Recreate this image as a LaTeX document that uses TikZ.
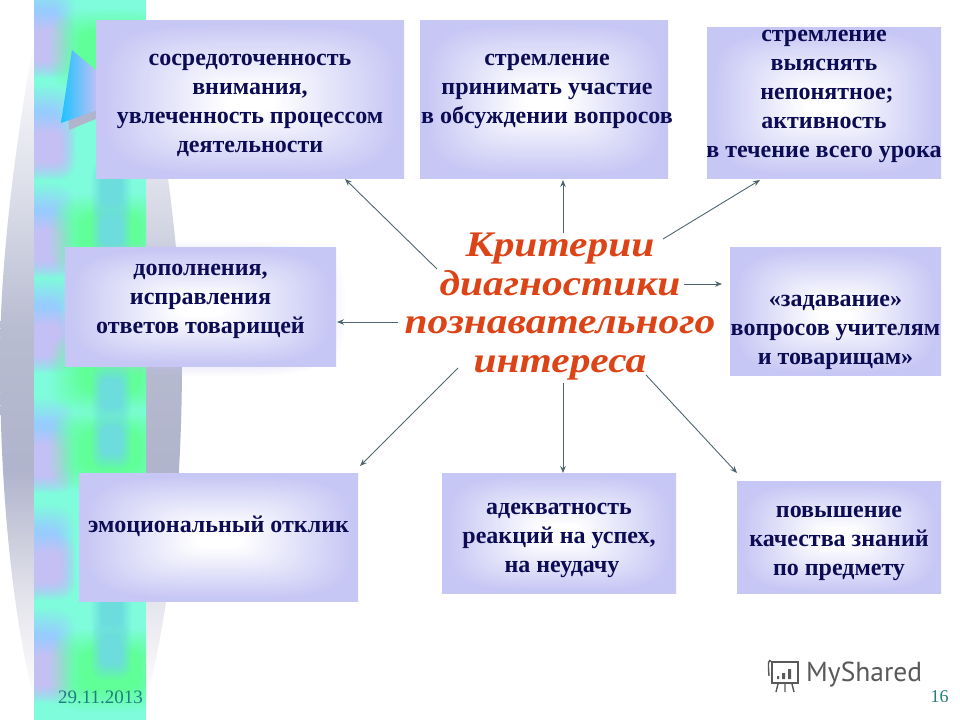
\documentclass[tikz,border=0pt]{standalone}
\usepackage{fontspec}
\setmainfont{Liberation Serif}
\newfontfamily\logofont{PT Sans}
\newfontfamily\critfont[FakeStretch=1.15]{Liberation Serif}
\usetikzlibrary{arrows.meta, positioning, fadings}

\definecolor{inktext}{HTML}{0C0C55}
\definecolor{critred}{HTML}{DC4418}
\definecolor{linegray}{HTML}{4F6670}
\definecolor{dateteal}{HTML}{1F7F80}
\definecolor{stripaqua}{HTML}{7FFCDC}
\definecolor{stripgreen}{HTML}{60FF98}
\definecolor{stripblue}{HTML}{98CCFF}
\definecolor{striplav}{HTML}{C4C0F4}
\definecolor{stripteal}{HTML}{6CDCDC}
\definecolor{archa}{HTML}{DADCE8}
\definecolor{archb}{HTML}{B8BCD0}
\definecolor{archc}{HTML}{B0B4CC}
\definecolor{archd}{HTML}{E4E4EC}

\pgfdeclarefunctionalshading{boxglow}{\pgfpoint{-50bp}{-50bp}}{\pgfpoint{50bp}{50bp}}{}{
  25 div dup mul dup mul exch 25 div dup mul dup mul add sqrt sqrt
  0.15 sub 0.8 div
  dup 0 lt {pop 0} if dup 1 gt {pop 1} if
  dup 0.22 mul 1 exch sub exch
  dup 0.22 mul 1 exch sub exch
  0.04 mul 1 exch sub
}
\pgfdeclareverticalshading{archgray}{100bp}{
  color(0bp)=(white); color(25bp)=(white); color(32.6bp)=(archd); color(42.4bp)=(archc);
  color(53bp)=(archb); color(63bp)=(archa); color(75bp)=(white); color(100bp)=(white)}
\pgfdeclarefunctionalshading{softmask}{\pgfpoint{-50bp}{-50bp}}{\pgfpoint{50bp}{50bp}}{}{
  25 div dup mul dup mul exch 25 div dup mul dup mul add sqrt sqrt
  0.45 sub 0.55 div
  dup 0 lt {pop 0} if dup 1 gt {pop 1} if
  1 exch sub dup dup
}
\pgfdeclarefading{softrect}{\pgfuseshading{softmask}}

\begin{document}
\begin{tikzpicture}[
    x=1pt, y=-1pt,
    node distance=16pt and 16pt,
    box/.style={rectangle, shade, shading=boxglow, inner sep=0pt, outer sep=0pt},
    boxtext/.style={align=center, text=inktext, inner sep=0pt, font=\fontsize{24}{29}\selectfont\bfseries},
    crit/.style={align=center, text=critred, inner sep=0pt, font=\fontsize{36}{38.5}\critfont\bfseries\itshape},
    arrow/.style={-{Stealth[length=7pt, width=5.5pt]}, line width=0.9pt, draw=linegray},
    blob/.style={path fading=softrect}
]
    \useasboundingbox (0,0) rectangle (960,720);
    \fill[white] (0,0) rectangle (960,720);

    % Gray arch behind the strip
    \shade[shading=archgray] (34,40) .. controls (16,140) and (0,260) .. (0,360) .. controls (0,500) and (14,620) .. (34,700) -- cycle;
    \shade[shading=archgray] (146,40) .. controls (164,140) and (182,260) .. (182,360) .. controls (182,500) and (168,620) .. (146,700) -- cycle;

    % Strip
    \fill[stripaqua] (34,0) rectangle (146,720);
    \begin{scope}
        \clip (34,0) rectangle (146,720);
        \foreach \y in {30,132,230,325,445,552,655} {
            \fill[stripblue, blob] (8,\y-48) rectangle (76,\y+48);
            \fill[striplav, blob] (16,\y-18) rectangle (76,\y+48);
        }
        \foreach \y in {50,235,372,450,670} {
            \fill[stripgreen, blob] (48,\y-42) rectangle (172,\y+42);
        }
        \foreach \y in {190,230,393,440,610,650} {
            \fill[stripteal, blob] (90,\y-30) rectangle (132,\y+30);
        }
    \end{scope}
    \fill[archc] (68,113) -- (98,105) -- (98,118) -- (69,130) -- cycle;
    \shade[left color=stripblue!50!blue!40!cyan, right color=striplav] (72,50) -- (98,72) -- (98,110) -- (61,123) -- cycle;

    % Row 1
    \node[box, minimum width=308pt, minimum height=158pt] (b1) at (250,99) {};
    \node[box, minimum width=248pt, minimum height=158pt, right=of b1] (b2) {};
    \node[box, minimum width=234pt, minimum height=151pt, right=39pt of b2, yshift=-3.5pt] (b3) {};

    % Row 2
    \fill[striplav, blob] (58,240) rectangle (345,376);
    \node[box, minimum width=271pt, minimum height=119pt] (b4) at (200.5,306.5) {};
    \node[crit] (crit1) at (560,306.5) {Критерии\\диагностики\\познавательного\\интереса};
    \node[box, minimum width=211pt, minimum height=128pt] (b5) at (835.5,311) {};

    % Row 3
    \node[box, minimum width=279pt, minimum height=128pt] (b6) at (218.5,537) {};
    \node[box, minimum width=234pt, minimum height=120pt, right=84pt of b6, yshift=4pt] (b7) {};
    \node[box, minimum width=204pt, minimum height=112pt, right=61pt of b7, yshift=-4pt] (b8) {};

    % Box texts
    \node[boxtext] (t1) at ([yshift=-6pt]b1) {сосредоточенность\\внимания,\\увлеченность процессом\\деятельности};
    \node[boxtext] (t2) at ([xshift=3pt, yshift=8pt]b2) {стремление\\принимать участие\\в обсуждении вопросов};
    \node[boxtext] (t3) at ([yshift=6.5pt]b3) {стремление\\выяснять\\\hspace{6pt}непонятное;\\активность\\в течение всего урока};
    \node[boxtext] (t4) at ([yshift=5pt]b4) {дополнения,\\исправления\\ответов товарищей};
    \node[boxtext] (t5) at ([yshift=-21pt]b5) {«задавание»\\вопросов учителям\\и товарищам»};
    \node[boxtext] (t6) at ([yshift=11pt]b6) {эмоциональный отклик};
    \node[boxtext] (t7) at ([yshift=-7pt]b7) {адекватность\\реакций на успех,\\\hspace{6pt}на неудачу};
    \node[boxtext] (t8) at ([yshift=-6pt]b8) {повышение\\качества знаний\\по предмету};

    % Connectors
    \coordinate (c1) at (437,269);
    \coordinate (c2) at (563,233);
    \coordinate (c3) at (663,239);
    \coordinate (c4) at (684,284);
    \coordinate (c5) at (398,322);
    \coordinate (c6) at (458,368);
    \coordinate (c7) at (563,383);
    \coordinate (c8) at (646,375);
    \draw[arrow] (c1) -- ([xshift=-59pt, yshift=-1pt]b1.south east);
    \draw[arrow] (c2) -- ([xshift=19pt, yshift=-2pt]b2.south);
    \draw[arrow] (c3) -- ([xshift=-64pt, yshift=-2pt]b3.south);
    \draw[arrow] (c4) -- ([xshift=-8pt, yshift=27pt]b5.west);
    \draw[arrow] (c5) -- ([xshift=1pt, yshift=-15.5pt]b4.east);
    \draw[arrow] (c6) -- ([xshift=2pt, yshift=7pt]b6.north east);
    \draw[arrow] (c7) -- ([xshift=4pt]b7.north);
    \draw[arrow] (c8) -- ([xshift=-204pt, yshift=8pt]b8.north east);

    % Footer
    \node[text=dateteal, font=\fontsize{19}{20}\selectfont] (date1) at (100.5,697) {29.11.2013};
    \node[text=dateteal, font=\fontsize{18}{20}\selectfont] (page1) at (939.5,697) {16};
    \node[text=black!65, font=\fontsize{27.5}{30}\logofont, anchor=west, inner sep=0pt] (logo1) at (806,675) {MyShared};
    \draw[black!65, line width=1.4pt] (772,662) -- (798,662) -- (798,683) -- (772,683) -- cycle;
    \draw[black!65, line width=1.4pt] (772,662) .. controls (768,658) and (768,662) .. (769,676);
    \draw[black!65, line width=1.4pt] (778,684) -- (776,692) (785,684) -- (785,692) (792,684) -- (794,692);
    \fill[black!65] (777,676) rectangle (779,679) (782,673) rectangle (785,679) (788,669) rectangle (791,679);
\end{tikzpicture}
\end{document}
